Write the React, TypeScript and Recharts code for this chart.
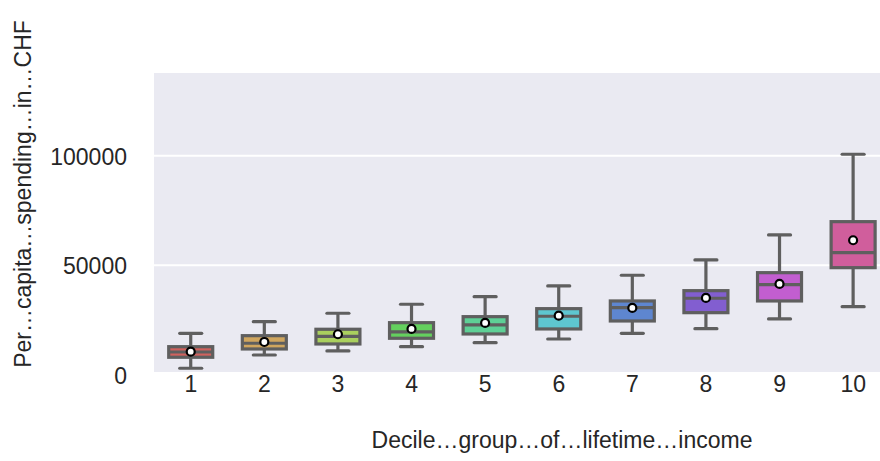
import React from 'react';
import { ComposedChart, Bar, XAxis, YAxis, CartesianGrid } from 'recharts';

const deciles = ['1', '2', '3', '4', '5', '6', '7', '8', '9', '10'];
const lowerWhisker = [3060, 9120, 10950, 12910, 14740, 16420, 19020, 21120, 25550, 31160];
const q1Values = [8075, 11860, 14140, 16740, 18700, 20990, 24630, 28420, 33760, 48950];
const medianValues = [10490, 14460, 17650, 19620, 22810, 26780, 30700, 34990, 41200, 55790];
const q3Values = [12910, 17930, 20850, 23860, 26600, 30250, 33760, 38460, 46670, 69940];
const upperWhisker = [19020, 24320, 28150, 32250, 35720, 40600, 45480, 52460, 63870, 100690];
const meanValues = [10630, 15050, 18570, 20990, 23720, 27050, 30570, 35130, 41510, 61450];
const boxColors = ['#d0625e', '#d0a65e', '#aad05e', '#64d05e', '#5ed096', '#5ec6d0', '#5e86d0', '#825ed0', '#c25ed0', '#d05e9c'];
const yTicks = [0, 50000, 100000];

const yLabel = 'Per…capita…spending…in…CHF';
const xLabel = 'Decile…group…of…lifetime…income';

const data = deciles.map((d, i) => ({
  decile: d,
  range: [lowerWhisker[i], upperWhisker[i]],
  q1: q1Values[i],
  median: medianValues[i],
  q3: q3Values[i],
  mean: meanValues[i],
  color: boxColors[i],
}));

const FONT = '"Liberation Sans", Arial, sans-serif';
const TEXT = '#262626';
const LINE = '#5f5f5f';
const LW = 3.2;

const BoxShape = (props: any) => {
  const { x, y, width, height, payload } = props;
  if (!payload) return null;
  const [lo, hi] = payload.range;
  const top = Math.min(y, y + height);
  const h = Math.abs(height);
  const py = (v: number) => top + ((hi - v) / (hi - lo)) * h;
  const cx = x + width / 2;
  const capHalf = width / 4;
  const yq1 = py(payload.q1);
  const yq3 = py(payload.q3);
  const ymed = py(payload.median);
  const ymean = py(payload.mean);
  const yhi = py(hi);
  const ylo = py(lo);
  return (
    <g>
      <line x1={cx} x2={cx} y1={yq3} y2={yhi} stroke={LINE} strokeWidth={LW} />
      <line x1={cx} x2={cx} y1={yq1} y2={ylo} stroke={LINE} strokeWidth={LW} />
      <line x1={cx - capHalf} x2={cx + capHalf} y1={yhi} y2={yhi} stroke={LINE} strokeWidth={LW} strokeLinecap="round" />
      <line x1={cx - capHalf} x2={cx + capHalf} y1={ylo} y2={ylo} stroke={LINE} strokeWidth={LW} strokeLinecap="round" />
      <rect x={x} y={yq3} width={width} height={yq1 - yq3} fill={payload.color} stroke={LINE} strokeWidth={LW} />
      <line x1={x} x2={x + width} y1={ymed} y2={ymed} stroke={LINE} strokeWidth={LW} />
      <circle cx={cx} cy={ymean} r={4} fill="#ffffff" stroke="#000000" strokeWidth={2.2} />
    </g>
  );
};

const YTick = (props: any) => {
  const { x, y, payload } = props;
  return (
    <text x={x} y={y} dy={9} textAnchor="end" fill={TEXT} fontSize={23} fontFamily={FONT}>
      {payload.value}
    </text>
  );
};

const XTick = (props: any) => {
  const { x, y, payload } = props;
  return (
    <text x={x} y={y} dy={19} textAnchor="middle" fill={TEXT} fontSize={23} fontFamily={FONT}>
      {payload.value}
    </text>
  );
};

export default function App() {
  return (
    <div style={{ position: 'absolute', left: 0, top: 0, width: 880, height: 461, overflow: 'hidden', background: '#ffffff' }}>
      <ComposedChart width={900} height={461} data={data} margin={{ top: 72, right: 10, bottom: 0, left: 0 }} barCategoryGap="20%">
        <CartesianGrid vertical={false} fill="#eaeaf2" stroke="#ffffff" strokeWidth={2} />
        <XAxis dataKey="decile" height={88} tickLine={false} axisLine={false} tickSize={0} tickMargin={0} tick={<XTick />} interval={0} />
        <YAxis
          width={154}
          domain={[900, 138200]}
          ticks={yTicks}
          allowDataOverflow
          tickLine={false}
          axisLine={false}
          tickSize={0}
          tickMargin={27}
          tick={<YTick />}
        />
        <Bar dataKey="range" shape={<BoxShape />} isAnimationActive={false} />
      </ComposedChart>
      <svg width={880} height={461} style={{ position: 'absolute', left: 0, top: 0, pointerEvents: 'none' }}>
        <text x={31} y={194} transform="rotate(-90 31 194)" textAnchor="middle" fill={TEXT} fontSize={23} fontFamily={FONT}>
          {yLabel}
        </text>
        <text x={562} y={448} textAnchor="middle" fill={TEXT} fontSize={23} fontFamily={FONT}>
          {xLabel}
        </text>
      </svg>
    </div>
  );
}
